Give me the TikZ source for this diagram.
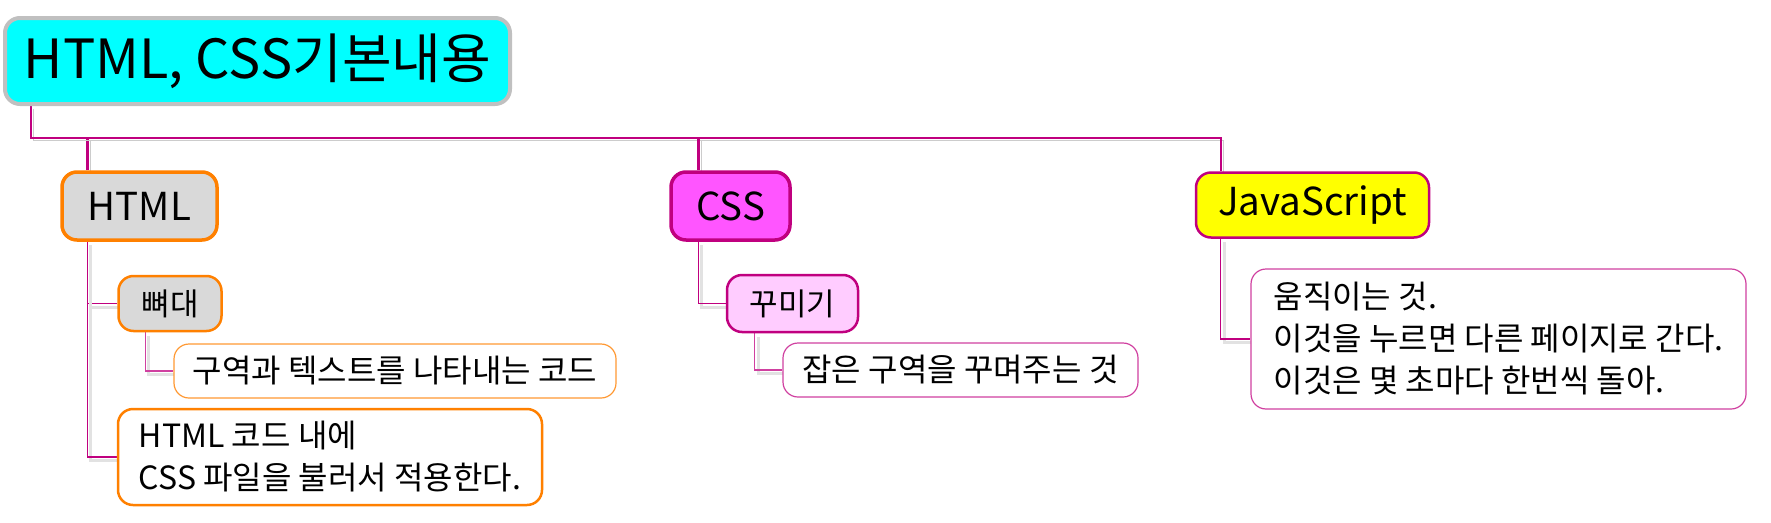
\documentclass[tikz,border=0pt]{standalone}
\usepackage{fontspec}
\setmainfont{Noto Sans CJK KR}
\usetikzlibrary{calc,backgrounds}

\definecolor{plum}{HTML}{C0007F}
\definecolor{rootgray}{HTML}{C0C0C0}
\definecolor{aqua}{HTML}{00FFFF}
\definecolor{lemon}{HTML}{FFFF00}
\definecolor{orng}{HTML}{FF8000}
\definecolor{lightorng}{HTML}{FF9933}
\definecolor{boxgray}{HTML}{D9D9D9}
\definecolor{hotpink}{HTML}{FF55FF}
\definecolor{palepink}{HTML}{FFCCFF}
\definecolor{thinpink}{HTML}{D040A0}
\definecolor{shade}{HTML}{CCCCCC}
\definecolor{softshade}{HTML}{E2E2E2}

\tikzset{
  topic/.style={rounded corners=15pt, inner sep=0pt, align=left},
  rootbox/.style={topic, draw=rootgray, fill=aqua, line width=4pt, font=\fontsize{54}{60}\selectfont},
  mainbox/.style={topic, line width=3.5pt, font=\fontsize{38.5}{44}\selectfont},
  subbox/.style={topic, line width=2.5pt, font=\fontsize{31}{36}\selectfont},
  notebox/.style={topic, fill=white, line width=1.2pt, font=\fontsize{32}{42}\selectfont},
  trunk/.style={draw=plum, line width=2.5pt,
    preaction={draw=shade, transform canvas={shift={(2.5pt,-2.5pt)}}}},
  twig/.style={draw=plum, line width=1.2pt,
    preaction={draw=softshade, line width=3pt, transform canvas={shift={(3.5pt,-3.5pt)}}}}
}

\begin{document}
\begin{tikzpicture}[x=1pt, y=-1pt, line join=round]
	\useasboundingbox (0,0) rectangle (1771,522);
	% topics
	\node[rootbox, minimum width=505pt, minimum height=86pt] (root) at (257.5,61) {HTML, CSS기본내용};
	\node[mainbox, draw=orng, fill=boxgray, minimum width=155pt, minimum height=68pt] (html) at (139.5,206) {HTML};
	\node[mainbox, draw=plum, fill=hotpink, minimum width=119pt, minimum height=68pt] (css) at (730.5,206) {CSS};
	\node[mainbox, draw=plum, fill=lemon, line width=2.5pt, minimum width=233pt, minimum height=65pt] (js) at (1312.5,205) {JavaScript};
	% subtopics
	\node[subbox, draw=orng, fill=boxgray, minimum width=103pt, minimum height=55pt] (bone) at (170,303.5) {뼈대};
	\node[notebox, draw=lightorng, minimum width=442pt, minimum height=54pt] (boneNote) at (395,371) {구역과 텍스트를 나타내는 코드};
	\node[notebox, draw=orng, line width=2.5pt, minimum width=424pt, minimum height=96pt] (link) at (330,457) {HTML 코드 내에\\CSS 파일을 불러서 적용한다.};
	\node[subbox, draw=plum, fill=palepink, minimum width=131pt, minimum height=57pt] (deco) at (792.5,303.5) {꾸미기};
	\node[notebox, draw=thinpink, minimum width=355pt, minimum height=54pt] (decoNote) at (960.5,370) {잡은 구역을 꾸며주는 것};
	\node[notebox, draw=thinpink, minimum width=495pt, minimum height=140pt] (jsNote) at (1498.5,339) {움직이는 것.\\이것을 누르면 다른 페이지로 간다.\\이것은 몇 초마다 한번씩 돌아.};
	% connectors
	\coordinate (fork) at (33,138);
	\begin{scope}[on background layer]
		\draw[trunk] ($(root.south west)+(28,0)$) |- (fork) -| ($(js.north west)+(26,0)$);
		\draw[trunk] ($(html.north west)+(27,0)$) |- (fork);
		\draw[trunk] ($(css.north west)+(29,0)$) |- (fork);
		\draw[twig] ($(html.south west)+(27,0)$) |- (bone.west);
		\draw[twig] ($(html.south west)+(27,0)$) |- (link.west);
		\draw[twig, draw=thinpink] ($(bone.south west)+(28,0)$) |- (boneNote.west);
		\draw[twig] ($(css.south west)+(29,0)$) |- (deco.west);
		\draw[twig, draw=thinpink] ($(deco.south west)+(29,0)$) |- (decoNote.west);
		\draw[twig] ($(js.south west)+(26,0)$) |- (jsNote.west);
	\end{scope}
\end{tikzpicture}
\end{document}
